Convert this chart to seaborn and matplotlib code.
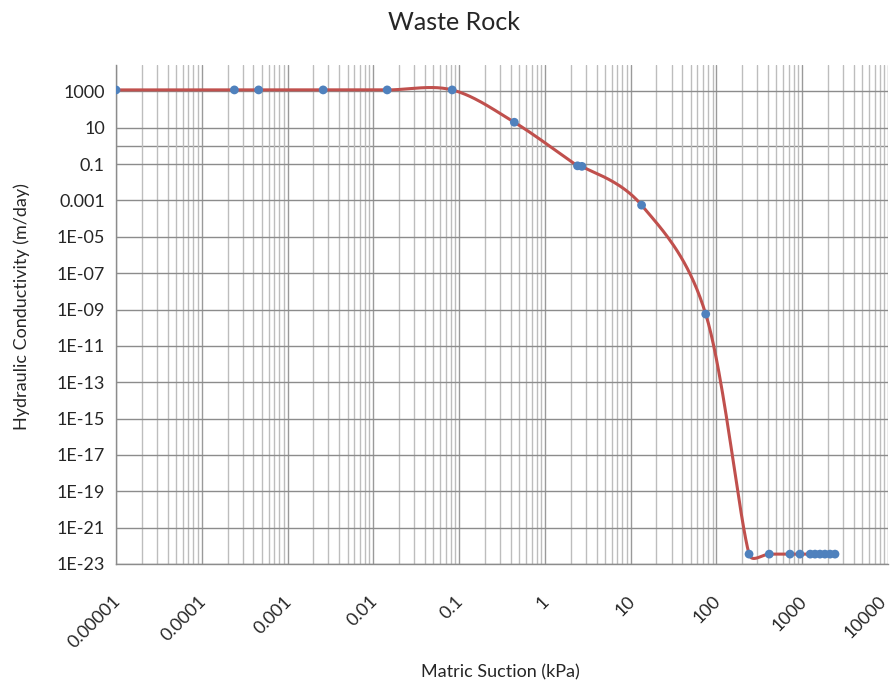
import numpy as np
import pandas as pd
import matplotlib
matplotlib.use("Agg")
import matplotlib.pyplot as plt
import matplotlib.ticker as mticker
import matplotlib.transforms as mtrans
import seaborn as sns

# values
suction = [1e-5, 2.4e-4, 4.6e-4, 2.6e-3, 0.0145, 0.083, 0.44, 2.4, 2.7, 13.4, 75,
           240, 413, 720, 940, 1240, 1410, 1610, 1840, 2110, 2410]
conductivity = [1200, 1200, 1200, 1200, 1200, 1200, 20, 0.08, 0.075, 5.5e-4, 5.6e-10,
                3.5e-23, 3.5e-23, 3.5e-23, 3.5e-23, 3.5e-23, 3.5e-23, 3.5e-23, 3.5e-23,
                3.5e-23, 3.5e-23]
x_ticks = [1e-5, 1e-4, 1e-3, 1e-2, 0.1, 1, 10, 100, 1000, 10000]
x_labels = ["0.00001", "0.0001", "0.001", "0.01", "0.1", "1", "10", "100", "1000", "10000"]
y_ticks = [10.0 ** p for p in range(-23, 4, 2)]
y_labels = ["1E-%02d" % (-p) if p < -3 else ("%g" % (10.0 ** p)) for p in range(-23, 4, 2)]

df = pd.DataFrame({"suction": suction, "k": conductivity})

sns.set_style("white")
plt.rcParams["font.family"] = ["Lato", "DejaVu Sans"]

fig = plt.figure(figsize=(8.93, 6.85), dpi=100)
ax = fig.add_axes([116 / 893, 1 - 564 / 685, 772 / 893, 499 / 685])
ax.set_xscale("log")
ax.set_yscale("log")
ax.set_xlim(1e-5, 1e4)
ax.set_ylim(1e-23, 10 ** 4.45)


def excel_smooth(ax, xs, ys, n=40):
    # bezier smoothing done in screen space, like a spreadsheet "smoothed line"
    pts = ax.transData.transform(np.column_stack([xs, ys]))
    out = []
    m = len(pts)
    t = np.linspace(0, 1, n)[:, None]
    for i in range(m - 1):
        p0, p1 = pts[max(i - 1, 0)], pts[i]
        p2, p3 = pts[i + 1], pts[min(i + 2, m - 1)]
        chord = np.hypot(*(p2 - p1))
        d1 = (p2 - p0) / 6
        d2 = (p3 - p1) / 6
        for d in (d1, d2):
            ln = np.hypot(*d)
            if ln > 0.5 * chord and ln > 0:
                d *= 0.5 * chord / ln
        b1, b2 = p1 + d1, p2 - d2
        seg = ((1 - t) ** 3) * p1 + 3 * ((1 - t) ** 2) * t * b1 + 3 * (1 - t) * t ** 2 * b2 + t ** 3 * p2
        out.append(seg if i == 0 else seg[1:])
    out = np.vstack(out)
    return ax.transData.inverted().transform(out)


smooth = excel_smooth(ax, df["suction"].values, df["k"].values)
sdf = pd.DataFrame({"suction": smooth[:, 0], "k": smooth[:, 1]})

sns.lineplot(data=sdf, x="suction", y="k", sort=False, color="#c0504d", lw=2.2, ax=ax, zorder=3)
sns.scatterplot(data=df, x="suction", y="k", color="#4f81bd", s=40, edgecolor="none", ax=ax, zorder=4)
ax.set_xlim(1e-5, 1e4)
ax.set_ylim(1e-23, 10 ** 4.45)

# grid
ax.xaxis.set_major_locator(mticker.FixedLocator(x_ticks))
ax.xaxis.set_minor_locator(mticker.LogLocator(base=10, subs=np.arange(2, 10), numticks=200))
ax.yaxis.set_major_locator(mticker.FixedLocator(y_ticks))
ax.yaxis.set_minor_locator(mticker.NullLocator())
ax.grid(True, which="major", axis="x", color="#9a9a9a", lw=1.0)
ax.grid(True, which="minor", axis="x", color="#bdbdbd", lw=1.0)
ax.grid(True, which="major", axis="y", color="#8c8c8c", lw=1.0)
ax.axhline(1, color="#8c8c8c", lw=1.0, zorder=0.5)
ax.set_axisbelow(True)

ax.set_xticklabels(x_labels, rotation=45, ha="right", va="top", rotation_mode="anchor", fontsize=13)
ax.set_yticklabels(y_labels, fontsize=13)
ax.tick_params(axis="both", which="both", length=0)
ax.tick_params(axis="x", pad=21)
ax.tick_params(axis="y", pad=8)
xlabs = ax.get_xticklabels()
for i, lab in enumerate(xlabs):
    dx = -4 if i < len(xlabs) - 1 else -10
    lab.set_transform(lab.get_transform() + mtrans.ScaledTranslation(dx / 100, 0, fig.dpi_scale_trans))

for s in ["top", "right"]:
    ax.spines[s].set_visible(False)
for s in ["left", "bottom"]:
    ax.spines[s].set_color("#8c8c8c")
    ax.spines[s].set_linewidth(1.0)

ax.set_xlabel("Matric Suction (kPa)", fontsize=13)
ax.set_ylabel("Hydraulic Conductivity (m/day)", fontsize=13)
ax.xaxis.set_label_coords((500 - 116) / 772, (564 - 672) / 499)
ax.yaxis.set_label_coords((22 - 116) / 772, (564 - 307) / 499)
ax.xaxis.label.set_va("center")
ax.yaxis.label.set_va("center")

fig.text(454 / 893, 1 - 22 / 685, "Waste Rock", ha="center", va="center", fontsize=18)

fig.savefig("out.png", dpi=100)
